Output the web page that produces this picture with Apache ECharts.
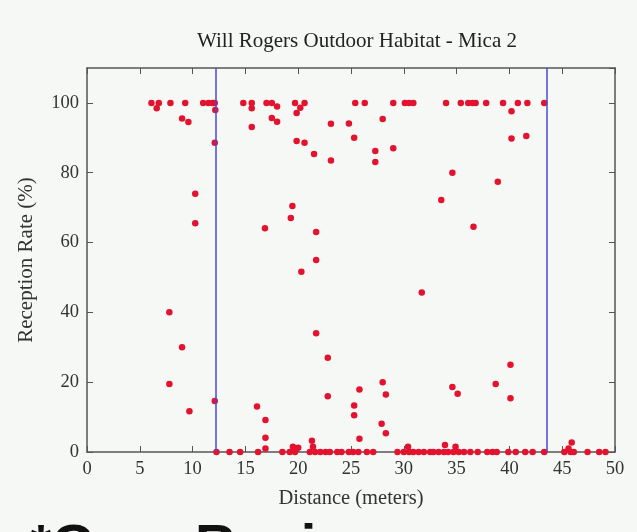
<!DOCTYPE html>
<html>
<head>
<meta charset="utf-8">
<script src="https://cdn.jsdelivr.net/npm/echarts@6/dist/echarts.min.js"></script>
<style>
html,body{margin:0;padding:0;background:#f6f8f5;}
#c{width:637px;height:532px;}
</style>
</head>
<body>
<div id="c"></div>
<script>
const titleText = 'Will Rogers Outdoor Habitat - Mica 2';
const xName = 'Distance (meters)';
const yName = 'Reception Rate (%)';
const footText = '*Gray Region';
const regionBounds = [12.2, 43.5];

const distance = [
  6.1,6.6,6.8,7.9,9.3,11.0,11.5,11.9,12.1,12.15,14.8,15.6,15.6,17.0,17.5,18.0,19.7,19.85,20.2,20.6,
  25.4,26.3,29.0,30.1,30.5,30.9,34.0,35.4,36.1,36.5,36.8,37.8,39.4,40.8,41.7,43.3,40.2,
  9.0,9.6,12.1,15.6,17.5,18.0,23.1,24.8,28.0,19.85,20.6,25.3,21.5,23.1,27.3,27.3,29.0,34.6,40.2,41.6,38.9,
  33.55,10.25,10.25,16.85,36.6,19.45,19.3,21.7,21.7,20.3,31.7,7.8,21.7,9.0,22.8,7.8,9.7,12.1,16.1,16.9,16.9,
  22.8,25.8,25.3,25.3,28.0,28.3,27.9,28.3,25.8,21.3,34.6,35.1,40.1,38.7,40.1,45.9,
  12.26,13.5,14.5,16.2,18.5,19.2,19.7,21.1,21.6,22.1,22.6,23.0,23.7,24.1,24.8,25.2,25.7,26.5,27.1,29.4,
  30.0,30.5,30.9,31.4,31.9,32.5,32.8,33.3,33.8,34.2,34.7,35.2,35.7,36.3,37.0,37.9,38.4,38.8,39.9,40.6,
  41.5,42.2,43.3,45.2,45.8,46.1,47.4,48.5,49.1,
  19.5,20.0,21.4,30.4,33.9,34.9,45.6,16.9
];
const reception = [
  100,98.5,100,100,100,100,100,100,100,98,100,100,98.5,100,100,99,100,97.1,98.6,100,
  100,100,100,100,100,100,100,100,100,100,100,100,100,100,100,100,97.6,
  95.5,94.5,88.6,93.1,95.7,94.6,94,94.1,95.4,89.1,88.6,90,85.4,83.5,86.2,83.1,87,80,89.8,90.5,77.4,
  72.2,74,65.5,64.1,64.5,70.5,67,63,55,51.6,45.7,40,34,30,27,19.5,11.7,14.6,13,9.2,4.1,
  16,17.9,13.3,10.5,20,16.5,8.1,5.4,3.8,3.2,18.6,16.7,25,19.5,15.4,2.7,
  0,0,0,0,0,0,0,0,0,0,0,0,0,0,0,0,0,0,0,0,
  0,0,0,0,0,0,0,0,0,0,0,0,0,0,0,0,0,0,0,0,
  0,0,0,0,0,0,0,0,0,
  1.5,1.2,1.5,1.5,2,1.5,1,1
];
const xTicks = {min: 0, max: 50, interval: 5};
const yTicks = {min: 0, max: 110, interval: 20};

const points = distance.map((d, i) => [d, reception[i]]);
const serif = 'Liberation Serif';
const axisCol = '#555';

const chart = echarts.init(document.getElementById('c'), null, {renderer: 'canvas'});
chart.setOption({
  backgroundColor: '#f6f8f5',
  animation: false,
  title: {
    text: titleText, left: 352, top: 26, textAlign: 'center',
    textStyle: {fontFamily: serif, fontSize: 21, fontWeight: 'normal', color: '#222'}
  },
  grid: {left: 87, right: 22, top: 68, bottom: 80, show: false},
  xAxis: [{
    type: 'value', min: xTicks.min, max: xTicks.max, interval: xTicks.interval,
    name: xName, nameLocation: 'middle', nameGap: 36,
    nameTextStyle: {fontFamily: serif, fontSize: 20.5, color: '#333'},
    axisLine: {show: true, onZero: false, lineStyle: {color: axisCol, width: 1.5}},
    axisTick: {show: true, inside: true, length: 6, lineStyle: {color: axisCol}},
    axisLabel: {fontFamily: serif, fontSize: 18.5, color: '#333', margin: 8},
    splitLine: {show: false}
  }, {
    type: 'value', position: 'top', min: xTicks.min, max: xTicks.max, interval: xTicks.interval,
    axisLine: {show: true, onZero: false, lineStyle: {color: axisCol, width: 1.5}},
    axisTick: {show: true, inside: true, length: 6, lineStyle: {color: axisCol}},
    axisLabel: {show: false}, splitLine: {show: false}
  }],
  yAxis: [{
    type: 'value', min: yTicks.min, max: yTicks.max, interval: yTicks.interval,
    name: yName, nameLocation: 'middle', nameGap: 50,
    nameTextStyle: {fontFamily: serif, fontSize: 21, color: '#333'},
    axisLine: {show: true, onZero: false, lineStyle: {color: axisCol, width: 1.5}},
    axisTick: {show: true, inside: true, length: 6, lineStyle: {color: axisCol}},
    axisLabel: {fontFamily: serif, fontSize: 18.5, color: '#333', margin: 8, showMaxLabel: false},
    splitLine: {show: false}
  }, {
    type: 'value', position: 'right', min: yTicks.min, max: yTicks.max, interval: yTicks.interval,
    axisLine: {show: true, onZero: false, lineStyle: {color: axisCol, width: 1.5}},
    axisTick: {show: true, inside: true, length: 6, lineStyle: {color: axisCol}},
    axisLabel: {show: false}, splitLine: {show: false}
  }],
  series: [{
    type: 'scatter',
    data: points,
    symbol: 'circle',
    symbolSize: 6.5,
    itemStyle: {color: '#e3122e', opacity: 1},
    z: 3,
    markLine: {
      silent: true, symbol: ['none', 'none'],
      label: {show: false},
      lineStyle: {color: '#4b4bd0', width: 1.5, type: 'solid'},
      data: regionBounds.map(v => ({xAxis: v}))
    }
  }],
  graphic: [{
    type: 'text', left: 30, top: 520,
    style: {text: footText, font: 'bold 56px "Liberation Sans"', fill: '#111'}
  }]
});
</script>
</body>
</html>
